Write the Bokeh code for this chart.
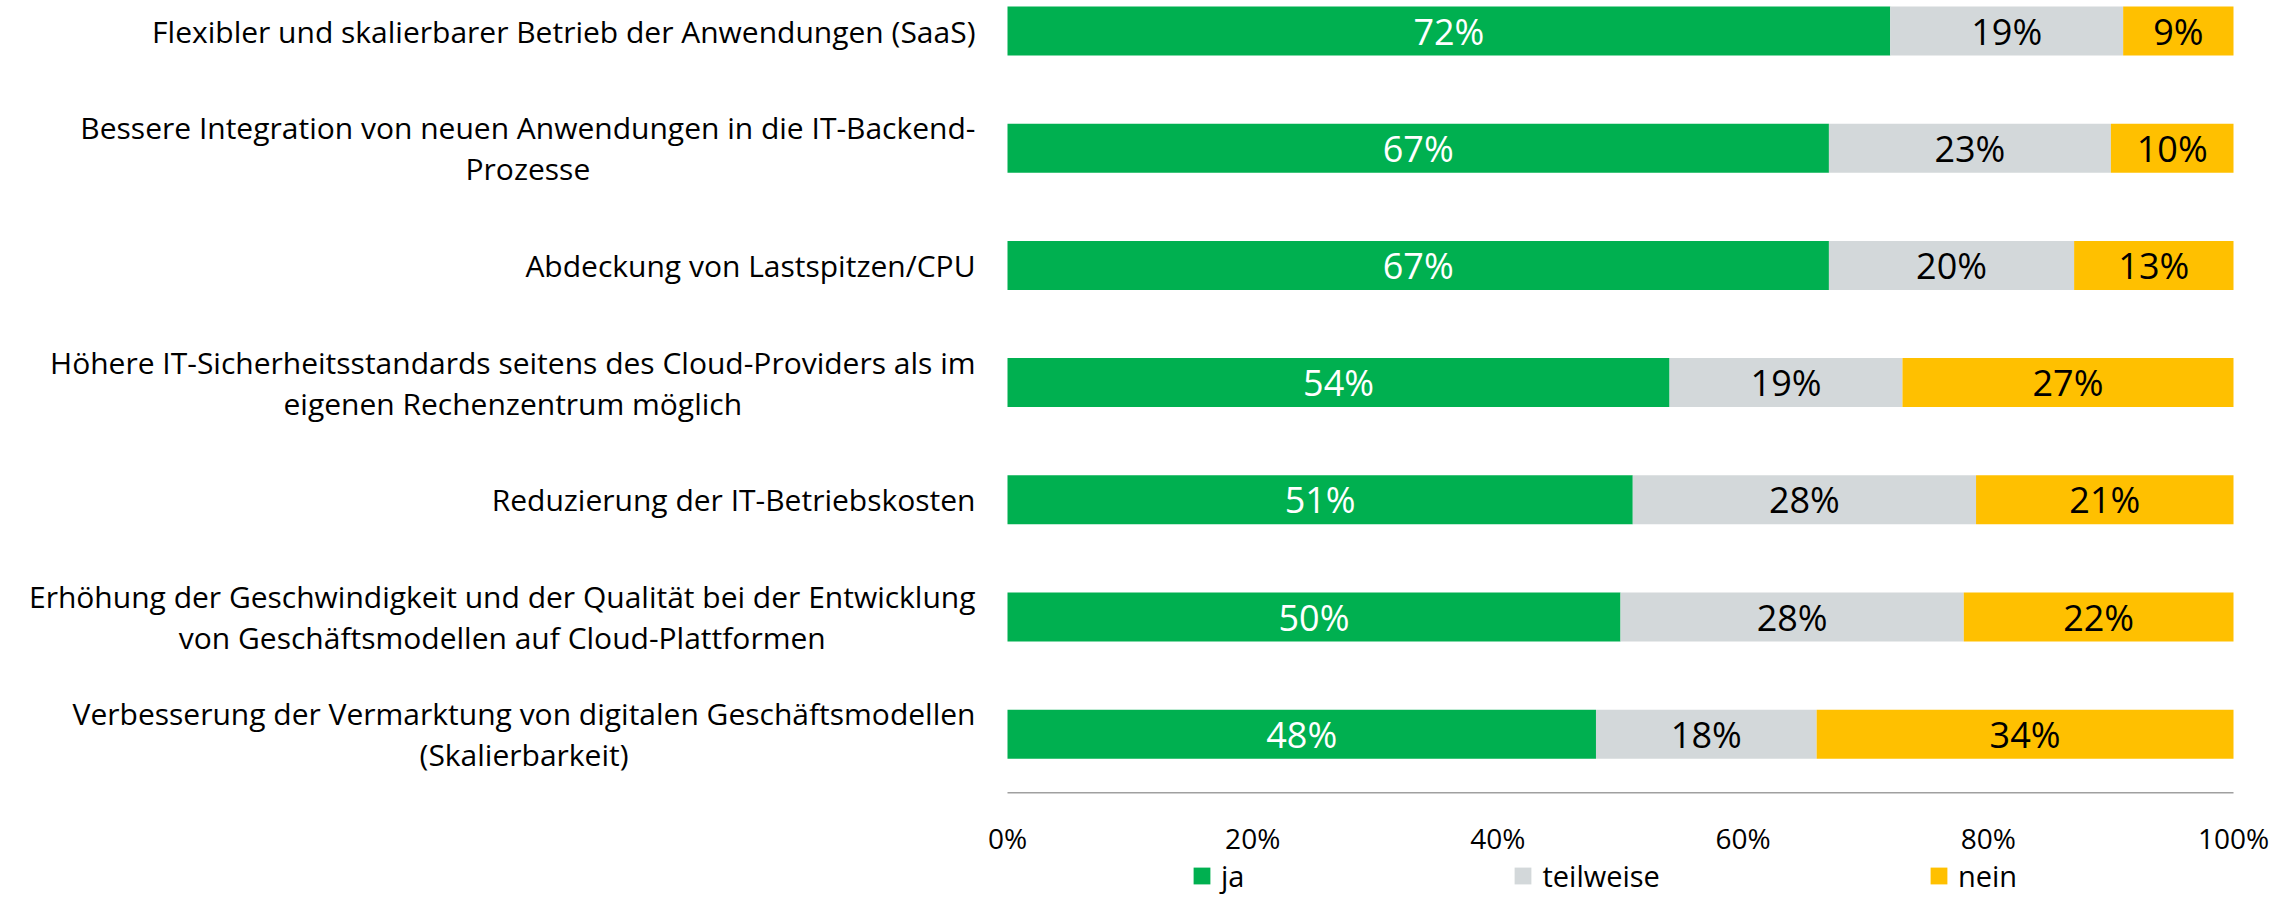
from bokeh.plotting import figure
from bokeh.models import ColumnDataSource, Range1d, Legend
from bokeh.core.properties import value
from bokeh.embed import file_html
from bokeh.resources import INLINE

categories = [
    "Flexibler und skalierbarer Betrieb der Anwendungen (SaaS)",
    "Bessere Integration von neuen Anwendungen in die IT-Backend-\nProzesse",
    "Abdeckung von Lastspitzen/CPU",
    "Höhere IT-Sicherheitsstandards seitens des Cloud-Providers als im\neigenen Rechenzentrum möglich",
    "Reduzierung der IT-Betriebskosten",
    "Erhöhung der Geschwindigkeit und der Qualität bei der Entwicklung\nvon Geschäftsmodellen auf Cloud-Plattformen",
    "Verbesserung der Vermarktung von digitalen Geschäftsmodellen\n(Skalierbarkeit)",
]
ja = [72, 67, 67, 54, 51, 50, 48]
teilweise = [19, 23, 20, 19, 28, 28, 18]
nein = [9, 10, 13, 27, 21, 22, 34]
series_names = ["ja", "teilweise", "nein"]
tick_values = [0, 20, 40, 60, 80, 100]
tick_labels = ["0%", "20%", "40%", "60%", "80%", "100%"]

colors = ["#00B050", "#D3D8DA", "#FFC000"]
text_colors = ["white", "black", "black"]
FONT = "Open Sans"

n = len(categories)
ypos = list(range(n))
source = ColumnDataSource(dict(y=ypos, ja=ja, teilweise=teilweise, nein=nein))

W, H = 2289, 899
plot_left, plot_right = 1007, 2233          # pixel extent of 0%..100%
px_per_x = (plot_right - plot_left) / 100.0
band_px = 117.2                              # pixel distance between bars
first_center = 30.5

p = figure(width=W, height=H, output_backend="svg", toolbar_location=None,
           x_range=Range1d(-plot_left / px_per_x, 100 + (W - plot_right) / px_per_x),
           y_range=Range1d((H - first_center) / band_px, -first_center / band_px),
           min_border=0)
p.axis.visible = False
p.grid.visible = False
p.outline_line_color = None

renderers = p.hbar_stack(series_names, y="y", height=0.418, color=colors,
                         line_color=None, source=source)

# value labels centred in each segment
vals = [ja, teilweise, nein]
for k, name in enumerate(series_names):
    xs, ys, txt = [], [], []
    for i in range(n):
        left = sum(vals[j][i] for j in range(k))
        xs.append(left + vals[k][i] / 2)
        ys.append(i)
        txt.append(f"{vals[k][i]}%")
    p.text(x=xs, y=ys, text=txt, text_align="center", text_baseline="middle",
           text_font=value(FONT), text_font_size="36px", text_color=text_colors[k])

# category labels (block right-aligned to the bars, lines centred)
p.text(x=[0] * n, y=ypos, text=categories, x_offset=-32, anchor="center_right",
       text_align="center", text_baseline="middle", text_font=value(FONT),
       text_font_size="30px", text_line_height=1.0, text_color="black")

# x axis line and tick labels
axis_y = n - 0.5
p.line(x=[tick_values[0], tick_values[-1]], y=[axis_y, axis_y],
       line_color="#A0A0A0", line_width=1.5)
p.text(x=tick_values, y=[axis_y] * len(tick_values), text=tick_labels, y_offset=45,
       text_align="center", text_baseline="middle", text_font=value(FONT),
       text_font_size="28px", text_color="black")

legend = Legend(items=[(nm, [r]) for nm, r in zip(series_names, renderers)],
                orientation="horizontal", location=(1191, 4),
                glyph_width=21, glyph_height=21, label_standoff=9, spacing=268,
                padding=0, margin=0, border_line_color=None,
                background_fill_alpha=0, label_text_font=FONT,
                label_text_font_size="29px", label_text_color="black",
                label_height=21)
p.add_layout(legend, "center")

open("out.html", "w").write(file_html(p, INLINE))
